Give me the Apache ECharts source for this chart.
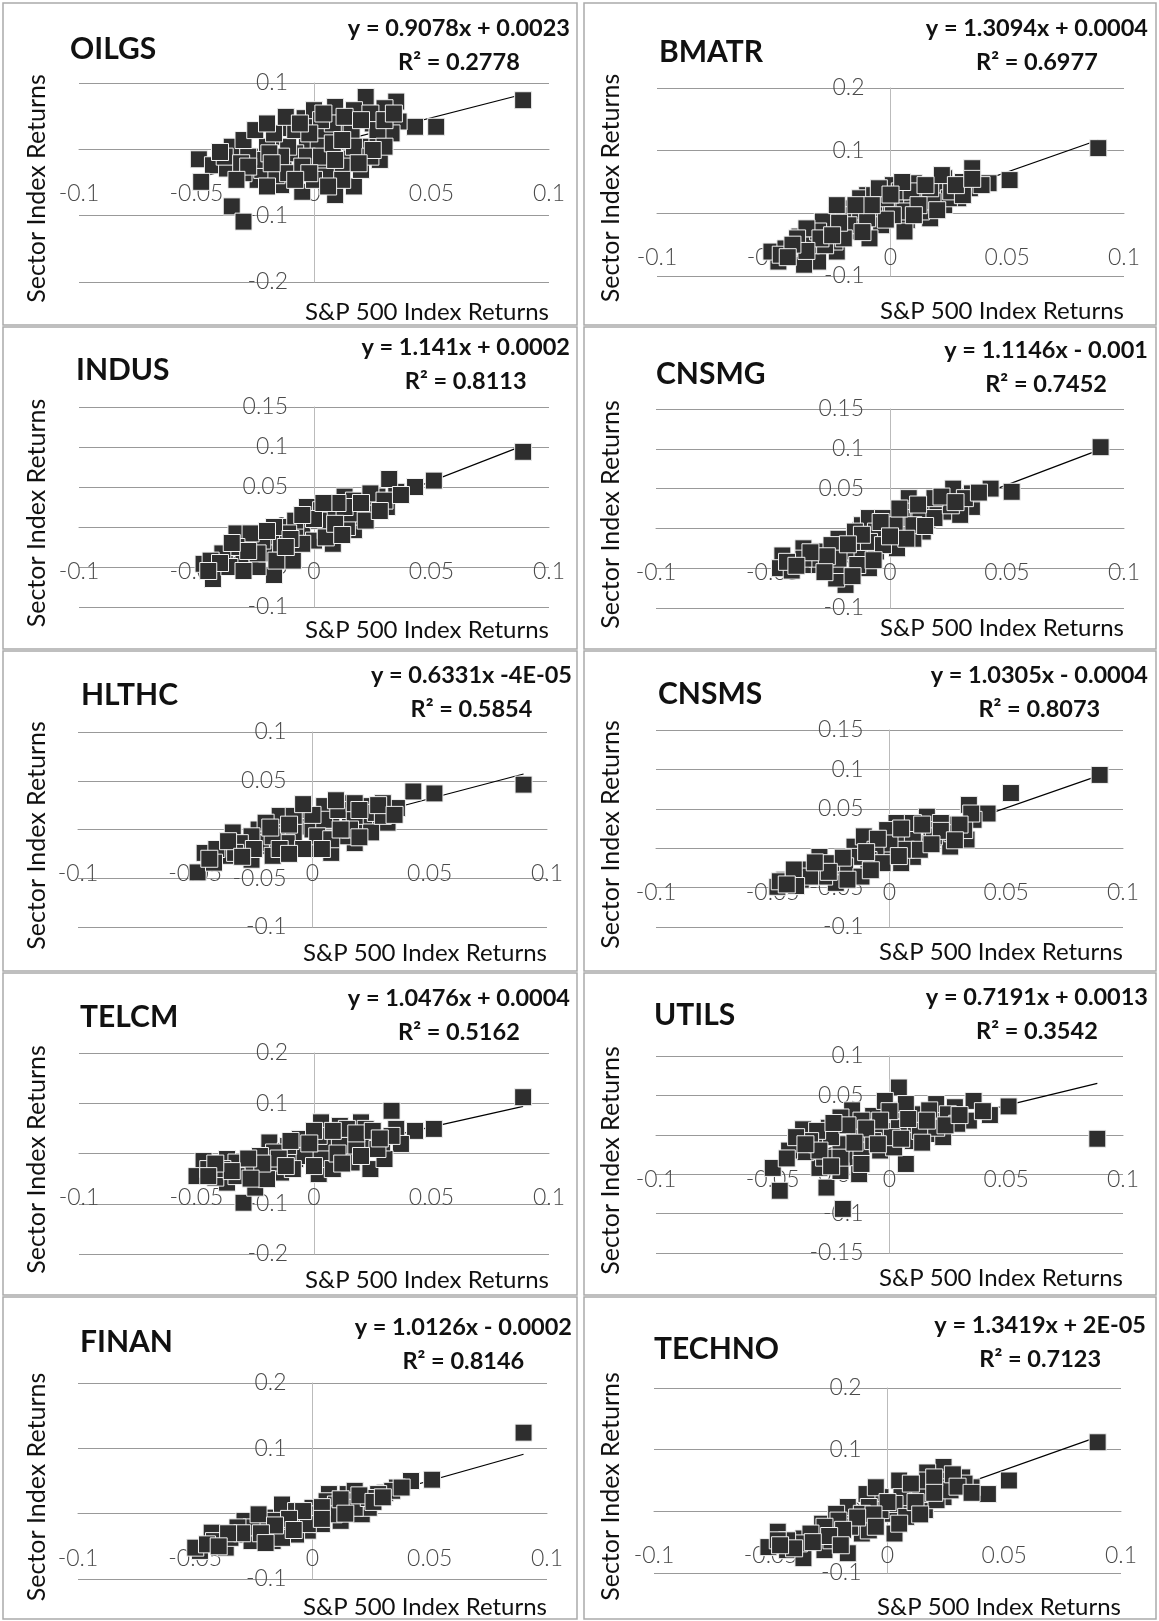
<!DOCTYPE html>
<html>
<head>
<meta charset="utf-8">
<script src="https://cdn.jsdelivr.net/npm/echarts@6/dist/echarts.min.js"></script>
<style>
html, body { margin: 0; padding: 0; background: #fff; }
#main { width: 1159px; height: 1621px; }
</style>
</head>
<body>
<div id="main"></div>
<script>
// ---- data ----
var sectors = ['OILGS', 'BMATR', 'INDUS', 'CNSMG', 'HLTHC', 'CNSMS', 'TELCM', 'UTILS', 'FINAN', 'TECHNO'];
var equations = ['y = 0.9078x + 0.0023', 'y = 1.3094x + 0.0004', 'y = 1.141x + 0.0002', 'y = 1.1146x - 0.001',
	'y = 0.6331x -4E-05', 'y = 1.0305x - 0.0004', 'y = 1.0476x + 0.0004', 'y = 0.7191x + 0.0013',
	'y = 1.0126x - 0.0002', 'y = 1.3419x + 2E-05'];
var rSquared = ['0.2778', '0.6977', '0.8113', '0.7452', '0.5854', '0.8073', '0.5162', '0.3542', '0.8146', '0.7123'];
var slopes = [0.9078, 1.3094, 1.141, 1.1146, 0.6331, 1.0305, 1.0476, 0.7191, 1.0126, 1.3419];
var intercepts = [0.0023, 0.0004, 0.0002, -0.001, -0.00004, -0.0004, 0.0004, 0.0013, -0.0002, 0.00002];

var xMin = -0.1, xMax = 0.1, xStep = 0.05;
var yMin = [-0.2, -0.1, -0.1, -0.1, -0.1, -0.1, -0.2, -0.15, -0.1, -0.1];
var yMax = [0.1, 0.2, 0.15, 0.15, 0.1, 0.15, 0.2, 0.1, 0.2, 0.2];
var yStep = [0.1, 0.1, 0.05, 0.05, 0.05, 0.05, 0.1, 0.05, 0.1, 0.1];

var xAxisName = 'S&P 500 Index Returns';
var yAxisName = 'Sector Index Returns';

// [S&P 500 return, sector return]
var oilgs = [[0.089,0.074],[0.052,0.034],[0.043,0.034],[0.036,0.042],[0.035,0.072],[0.022,0.079],[0.030,0.062],
	[0.025,0.039],[0.014,0.037],[0.009,0.064],[-0.004,0.047],[-0.011,0.032],[-0.003,0.014],[0.008,-0.001],
	[0.016,-0.014],[0.017,-0.056],[0.009,-0.069],[-0.005,-0.064],[-0.014,-0.054],[-0.024,-0.046],[-0.030,-0.036],
	[-0.035,0.004],[-0.049,-0.015],[-0.043,-0.024],[-0.037,-0.029],[-0.048,-0.049],[-0.035,-0.086],[-0.030,-0.109],
	[-0.026,-0.011],[-0.017,0.019],[-0.013,-0.016],[-0.008,-0.006],[0.002,-0.026],[0.005,0.024],[0.016,0.024],
	[0.023,0.004],[0.027,0.012],[0.028,-0.016],[-0.022,-0.031],[-0.016,-0.039],[0.008,0.039],[0.017,0.059],
	[0.002,0.004],[-0.003,-0.011],[-0.011,0.004],[0.012,-0.026],[0.005,-0.041],[-0.020,0.004],[0.033,0.024],
	[0.000,0.059],[0.003,-0.011],[-0.017,0.024],[-0.008,0.029],[0.003,0.044],[0.013,0.049],[0.024,0.054],
	[0.027,0.029],[0.017,0.004],[0.008,0.009],[-0.002,0.024],[-0.014,-0.011],[-0.024,-0.016],[-0.011,-0.036],
	[0.000,-0.046],[0.009,-0.016],[0.020,-0.031],[0.024,-0.011],[0.030,0.004],[-0.020,-0.056],[-0.028,-0.011],
	[-0.038,-0.011],[-0.031,-0.021],[-0.019,-0.006],[-0.005,-0.026],[-0.030,0.014],[-0.025,0.029],[-0.020,0.039],
	[-0.012,0.049],[-0.006,0.039],[0.004,0.054],[0.012,0.014],[0.020,0.044],[0.030,0.044],[0.034,0.054],
	[0.025,-0.001],[0.019,-0.021],[0.012,-0.046],[-0.002,-0.036],[-0.008,-0.046],[-0.018,-0.021],[-0.028,-0.026],
	[-0.040,-0.004],[-0.033,-0.046],[0.006,-0.056]];
var bmatr = [[0.089,0.104],[0.051,0.053],[0.042,0.048],[0.035,0.072],[0.023,0.056],[0.034,0.040],[0.029,0.024],
	[0.015,0.029],[0.007,0.024],[0.001,0.045],[0.010,0.048],[0.017,-0.008],[0.007,-0.011],[-0.004,0.011],
	[-0.010,0.029],[-0.013,-0.019],[-0.023,-0.003],[-0.026,-0.024],[-0.031,-0.077],[-0.037,-0.082],[-0.048,-0.077],
	[-0.051,-0.061],[-0.045,-0.056],[-0.039,-0.037],[-0.028,-0.029],[-0.023,-0.061],[-0.017,-0.029],[-0.007,0.003],
	[0.002,0.013],[0.023,0.013],[0.013,0.003],[-0.004,-0.019],[-0.020,0.008],[-0.029,-0.013],[-0.034,-0.051],
	[-0.013,0.024],[0.004,0.035],[0.020,0.035],[0.025,0.024],[0.018,0.019],[-0.009,-0.040],[0.006,-0.029],
	[-0.017,-0.003],[0.031,0.050],[-0.024,-0.045],[-0.007,0.029],[-0.002,0.024],[0.009,0.035],[0.017,0.040],
	[0.026,0.035],[0.022,0.061],[0.006,0.003],[0.012,0.013],[-0.023,0.013],[-0.013,0.003],[-0.018,-0.019],
	[-0.031,-0.029],[-0.036,-0.024],[-0.040,-0.040],[-0.047,-0.066],[-0.028,-0.051],[-0.020,-0.040],[-0.010,-0.008],
	[0.001,-0.003],[0.031,0.029],[0.039,0.045],[-0.005,0.040],[0.005,0.050],[0.015,0.045],[0.028,0.045],
	[0.020,0.005],[0.010,-0.003],[-0.002,-0.010],[-0.008,0.013],[-0.015,0.013],[-0.022,-0.015],[-0.030,-0.040],
	[-0.036,-0.060],[-0.042,-0.050],[-0.025,-0.035],[-0.012,-0.030],[0.000,0.030],[0.035,0.055],[-0.044,-0.070]];
var indus = [[0.089,0.094],[0.051,0.058],[0.043,0.050],[0.035,0.044],[0.032,0.060],[0.031,0.025],[0.024,0.025],
	[0.013,0.038],[0.008,0.008],[-0.005,0.000],[-0.003,0.025],[0.003,0.021],[-0.014,0.000],[-0.013,-0.033],
	[-0.017,-0.060],[-0.030,-0.017],[-0.030,-0.042],[-0.038,-0.038],[-0.047,-0.046],[-0.043,-0.065],[-0.024,-0.050],
	[-0.025,-0.025],[-0.019,-0.013],[-0.008,-0.008],[0.008,-0.021],[0.017,-0.004],[0.020,0.013],[0.014,0.000],
	[0.000,-0.017],[0.027,0.038],[-0.009,-0.042],[-0.020,-0.033],[-0.033,-0.008],[0.005,-0.004],[0.017,0.033],
	[-0.014,-0.021],[0.006,0.017],[0.016,0.017],[0.024,0.042],[0.013,0.025],[0.002,0.008],[-0.008,0.008],
	[-0.011,-0.008],[-0.017,0.000],[-0.022,-0.017],[-0.027,-0.008],[-0.033,-0.025],[-0.039,-0.033],[-0.044,-0.042],
	[-0.036,-0.050],[-0.016,-0.042],[-0.005,-0.021],[0.005,-0.013],[0.022,0.008],[0.030,0.033],[0.009,0.004],
	[-0.024,-0.033],[0.010,0.030],[0.020,0.030],[0.028,0.020],[0.000,0.010],[-0.005,0.015],[-0.010,-0.015],
	[-0.020,-0.005],[-0.028,-0.030],[-0.035,-0.020],[-0.040,-0.045],[-0.030,-0.055],[-0.012,-0.025],[0.012,-0.010],
	[0.004,0.030],[0.037,0.040],[-0.045,-0.055]];
var cnsmg = [[0.090,0.102],[0.052,0.046],[0.043,0.050],[0.035,0.027],[0.035,0.044],[0.027,0.050],[0.024,0.021],
	[0.016,0.011],[0.008,0.038],[0.007,0.004],[-0.003,-0.004],[-0.012,0.004],[-0.012,-0.034],[-0.019,-0.071],
	[-0.023,-0.063],[-0.023,-0.046],[-0.030,-0.029],[-0.037,-0.025],[-0.046,-0.034],[-0.047,-0.050],[-0.042,-0.053],
	[-0.036,-0.046],[-0.015,-0.017],[-0.006,-0.029],[0.002,-0.013],[0.007,0.021],[0.019,0.029],[0.030,0.017],
	[-0.022,-0.013],[-0.030,-0.046],[-0.009,0.013],[0.014,-0.004],[-0.003,0.013],[0.003,-0.025],[-0.009,-0.050],
	[0.010,-0.013],[0.005,0.013],[0.013,0.021],[0.019,0.013],[0.026,0.029],[0.010,0.004],[0.002,0.004],
	[-0.006,-0.004],[-0.009,-0.017],[-0.015,-0.004],[-0.019,-0.029],[-0.025,-0.021],[-0.031,-0.038],[-0.037,-0.038],
	[-0.044,-0.042],[-0.014,-0.046],[-0.003,-0.021],[0.007,-0.013],[0.032,0.038],[0.019,0.038],[-0.022,-0.038],
	[0.012,0.030],[0.022,0.040],[0.028,0.033],[0.004,0.025],[-0.004,0.008],[-0.012,-0.008],[-0.018,-0.020],
	[-0.027,-0.035],[-0.034,-0.030],[-0.040,-0.047],[-0.028,-0.055],[-0.016,-0.060],[0.000,-0.010],[0.015,0.003],
	[0.038,0.045],[-0.007,-0.040]];
var hlthc = [[0.090,0.046],[0.052,0.037],[0.043,0.039],[0.036,0.022],[0.030,0.027],[0.032,0.007],[0.024,0.014],
	[0.022,0.003],[0.014,0.027],[0.008,0.010],[0.008,-0.024],[0.003,-0.014],[-0.004,0.003],[-0.004,0.020],
	[-0.014,-0.003],[-0.019,-0.017],[-0.026,-0.031],[-0.030,-0.017],[-0.034,-0.003],[-0.037,-0.027],[-0.046,-0.024],
	[-0.049,-0.044],[-0.023,0.000],[-0.009,-0.020],[0.018,-0.014],[0.016,0.007],[0.005,0.024],[-0.014,0.014],
	[-0.022,-0.014],[-0.001,-0.020],[0.025,-0.003],[0.013,-0.007],[0.021,0.024],[-0.017,-0.027],[0.000,0.000],
	[0.005,0.010],[0.011,0.020],[0.018,0.014],[0.027,0.017],[0.002,-0.007],[-0.008,-0.003],[-0.011,-0.014],
	[-0.017,-0.007],[-0.020,0.007],[-0.026,-0.007],[-0.031,-0.014],[-0.033,-0.024],[-0.041,-0.020],[-0.042,-0.034],
	[-0.014,-0.020],[-0.004,-0.020],[0.008,-0.010],[0.016,0.000],[0.030,0.014],[-0.008,0.014],[0.018,0.027],
	[0.010,0.030],[0.020,0.020],[0.028,0.025],[0.035,0.015],[0.000,0.015],[-0.010,0.005],[-0.018,0.002],
	[-0.025,-0.020],[-0.036,-0.012],[-0.044,-0.030],[-0.030,-0.028],[-0.010,-0.025],[0.004,-0.020],[0.012,0.000],
	[0.020,-0.008],[-0.004,0.026]];
var cnsms = [[0.090,0.093],[0.052,0.070],[0.042,0.044],[0.034,0.055],[0.036,0.036],[0.033,0.011],[0.026,0.030],
	[0.023,0.013],[0.016,0.040],[0.015,0.006],[0.007,0.011],[0.003,0.032],[-0.004,0.008],[-0.012,-0.011],
	[-0.015,0.002],[-0.022,-0.023],[-0.023,-0.044],[-0.029,-0.023],[-0.030,-0.011],[-0.038,-0.040],[-0.045,-0.040],
	[-0.048,-0.049],[-0.047,-0.042],[-0.006,-0.019],[0.010,-0.011],[0.018,0.023],[0.000,-0.002],[-0.017,-0.036],
	[-0.011,0.015],[0.026,0.002],[0.005,-0.019],[-0.034,-0.027],[-0.001,0.023],[0.010,0.015],[0.019,0.015],
	[0.027,0.019],[0.007,-0.002],[0.000,0.006],[-0.006,-0.002],[-0.009,-0.015],[-0.015,-0.011],[-0.019,-0.023],
	[-0.025,-0.019],[-0.028,-0.036],[-0.034,-0.036],[-0.041,-0.040],[-0.041,-0.027],[-0.012,-0.036],[-0.003,-0.019],
	[0.013,-0.002],[0.032,0.023],[0.022,0.032],[0.010,0.032],[0.035,0.044],[0.005,0.025],[0.014,0.030],
	[0.022,0.022],[0.030,0.030],[0.028,0.010],[-0.005,0.012],[-0.010,-0.005],[-0.020,-0.012],[-0.026,-0.030],
	[-0.032,-0.018],[-0.040,-0.048],[-0.018,-0.040],[-0.008,-0.028],[0.004,-0.010],[0.018,0.005],[-0.044,-0.046]];
var telcm = [[0.089,0.112],[0.051,0.049],[0.043,0.045],[0.035,0.049],[0.033,0.085],[0.037,0.019],[0.024,0.029],
	[0.020,0.062],[0.011,0.055],[0.003,0.062],[-0.003,0.009],[0.007,-0.018],[0.002,-0.041],[0.014,0.002],
	[0.024,-0.031],[0.030,-0.011],[-0.014,-0.038],[-0.019,0.022],[-0.025,-0.018],[-0.030,-0.038],[-0.030,-0.098],
	[-0.025,-0.068],[-0.037,-0.011],[-0.037,-0.058],[-0.047,-0.015],[-0.050,-0.045],[-0.042,-0.048],[-0.012,0.005],
	[-0.008,-0.011],[-0.006,0.029],[0.016,0.029],[-0.020,-0.031],[0.008,0.029],[0.029,0.022],[0.003,-0.011],
	[-0.015,-0.018],[0.005,0.022],[0.011,0.015],[0.018,0.009],[0.027,0.009],[0.022,0.049],[0.014,0.049],
	[0.002,0.035],[-0.004,-0.005],[-0.011,0.015],[-0.017,0.002],[-0.023,-0.005],[-0.026,-0.031],[-0.033,-0.018],
	[-0.039,-0.031],[-0.045,-0.031],[-0.033,-0.045],[-0.020,-0.051],[-0.009,-0.031],[0.008,-0.031],[0.016,-0.018],
	[0.033,0.035],[0.000,0.045],[0.008,0.045],[0.018,0.040],[0.025,0.045],[0.028,0.030],[0.020,-0.005],
	[0.010,0.000],[-0.002,0.020],[-0.010,0.025],[-0.015,-0.010],[-0.022,-0.020],[-0.028,-0.010],[-0.035,-0.035],
	[-0.042,-0.020],[-0.045,-0.045],[-0.027,-0.050],[-0.012,-0.025],[0.000,-0.025],[0.012,-0.020]];
var utils = [[0.089,-0.005],[0.051,0.036],[0.043,0.025],[0.036,0.043],[0.034,0.018],[0.028,0.035],[0.023,0.022],
	[0.017,0.001],[0.014,0.026],[0.007,0.009],[0.007,-0.037],[0.004,0.060],[0.004,0.031],[-0.007,0.024],
	[-0.004,-0.020],[-0.012,0.001],[-0.016,0.031],[-0.017,-0.029],[-0.013,-0.050],[-0.020,-0.094],[-0.026,0.009],
	[-0.027,-0.067],[-0.030,-0.042],[-0.037,0.007],[-0.036,-0.022],[-0.043,-0.020],[-0.050,-0.042],[-0.047,-0.071],
	[-0.021,-0.012],[-0.001,0.005],[0.010,-0.008],[0.023,-0.003],[-0.021,-0.046],[-0.031,-0.012],[-0.002,0.043],
	[0.020,0.039],[0.002,-0.016],[-0.012,-0.020],[0.010,0.026],[0.017,0.031],[0.025,0.026],[0.029,0.014],
	[0.004,0.009],[-0.006,0.009],[-0.012,0.018],[-0.021,0.022],[-0.025,-0.003],[-0.031,0.005],[-0.034,-0.008],
	[-0.040,-0.003],[-0.028,-0.029],[-0.021,-0.029],[-0.007,-0.008],[0.001,-0.003],[0.013,0.005],[0.020,0.009],
	[0.007,0.039],[-0.012,-0.037],[0.000,0.030],[0.008,0.020],[0.016,0.018],[0.024,0.012],[0.030,0.025],
	[-0.004,0.018],[-0.010,0.008],[-0.018,0.012],[-0.024,0.015],[-0.030,-0.020],[-0.036,-0.012],[-0.015,-0.010],
	[-0.005,-0.012],[0.005,-0.005],[0.014,-0.010],[-0.025,-0.040],[-0.044,-0.030],[0.040,0.030]];
var finan = [[0.090,0.124],[0.051,0.052],[0.042,0.050],[0.036,0.040],[0.031,0.032],[0.023,0.024],[0.015,0.007],
	[0.015,0.030],[0.007,0.030],[0.007,-0.001],[-0.002,-0.026],[-0.012,-0.001],[-0.013,-0.021],[-0.017,-0.042],
	[-0.023,-0.021],[-0.029,-0.011],[-0.031,-0.032],[-0.038,-0.044],[-0.043,-0.029],[-0.048,-0.057],[-0.050,-0.052],
	[-0.037,-0.052],[-0.007,-0.032],[0.004,-0.016],[0.021,-0.001],[0.024,0.009],[0.000,0.009],[-0.020,-0.006],
	[-0.013,0.014],[-0.007,0.004],[0.012,-0.011],[0.034,0.035],[-0.026,-0.042],[0.018,0.035],[0.006,0.019],
	[0.010,0.014],[0.018,0.019],[0.028,0.030],[0.002,-0.001],[-0.004,-0.006],[-0.009,-0.016],[-0.017,-0.011],
	[-0.020,-0.026],[-0.026,-0.021],[-0.032,-0.021],[-0.035,-0.037],[-0.042,-0.042],[-0.045,-0.047],[-0.013,-0.037],
	[-0.002,-0.016],[0.009,-0.001],[0.018,0.009],[0.024,0.024],[-0.023,-0.001],[0.004,0.010],[0.012,0.022],
	[0.020,0.028],[0.026,0.018],[0.030,0.025],[-0.004,0.004],[-0.010,-0.008],[-0.016,-0.018],[-0.022,-0.030],
	[-0.030,-0.030],[-0.036,-0.030],[-0.040,-0.050],[-0.020,-0.045],[-0.008,-0.025],[0.004,-0.008],[0.014,0.000],
	[0.038,0.040]];
var techno = [[0.090,0.112],[0.052,0.050],[0.043,0.028],[0.036,0.039],[0.032,0.055],[0.024,0.072],[0.017,0.063],
	[0.024,0.023],[0.016,0.020],[0.008,0.007],[0.008,0.028],[0.005,0.050],[-0.003,0.023],[-0.005,-0.015],
	[-0.014,-0.015],[-0.017,0.007],[-0.017,-0.068],[-0.021,-0.036],[-0.028,-0.020],[-0.030,-0.047],[-0.036,-0.044],
	[-0.047,-0.033],[-0.051,-0.058],[-0.043,-0.063],[-0.036,-0.076],[-0.022,-0.004],[-0.009,0.028],[0.002,-0.004],
	[0.003,-0.036],[0.016,0.002],[0.027,0.050],[-0.027,-0.063],[-0.011,-0.036],[0.011,0.039],[0.021,0.039],
	[-0.005,0.039],[0.006,0.023],[0.014,0.028],[0.021,0.018],[0.027,0.034],[0.017,0.050],[0.003,0.012],
	[-0.003,0.002],[-0.008,0.007],[-0.011,-0.004],[-0.016,-0.025],[-0.021,-0.015],[-0.027,-0.025],[-0.033,-0.036],
	[-0.038,-0.052],[-0.043,-0.047],[-0.047,-0.047],[-0.024,-0.047],[-0.008,-0.031],[0.008,-0.009],[0.033,0.045],
	[0.010,0.045],[0.020,0.055],[0.028,0.060],[0.030,0.040],[0.020,0.030],[0.012,0.015],[0.000,0.015],
	[-0.006,-0.005],[-0.013,-0.010],[-0.019,-0.030],[-0.025,-0.040],[-0.032,-0.050],[-0.040,-0.060],[-0.046,-0.055],
	[-0.020,-0.055],[-0.005,-0.025],[0.005,-0.020],[0.014,-0.005],[0.036,0.030]];
var points = [oilgs, bmatr, indus, cnsmg, hlthc, cnsms, telcm, utils, finan, techno];

// ---- layout (page pixels) ----
// plot box: left, top, right, bottom
var plots = [[79, 83, 549, 282], [657, 88, 1124, 276],
	[79, 407, 549, 607], [656, 409, 1124, 608],
	[78, 732, 547, 927], [656, 730, 1123, 927],
	[79, 1053, 549, 1254], [656, 1056, 1123, 1253],
	[78, 1383, 547, 1579], [654, 1388, 1121, 1573]];
var namePos = [[70, 49], [659, 52], [76, 370], [656, 374], [81, 695], [658, 694], [80, 1017], [654, 1015], [80, 1342], [654, 1349]];
var eqPos = [[570, 28], [1148, 28], [570, 347], [1148, 350], [572, 675], [1148, 675], [570, 998], [1148, 997], [572, 1327], [1146, 1325]];
var xNameY = [312, 311, 630, 628, 953, 952, 1280, 1278, 1607, 1607];
var rowTop = [3, 327, 651, 973, 1297];
var rowBottom = [325, 649, 971, 1295, 1619];

var font = 'Lato, "Open Sans", sans-serif';
var myChart = echarts.init(document.getElementById('main'));
var option = {
	backgroundColor: '#fff',
	animation: false,
	grid: [], xAxis: [], yAxis: [], series: [], graphic: []
};

sectors.forEach(function (name, i) {
	var p = plots[i];
	var col = i % 2, row = Math.floor(i / 2);
	var w = p[2] - p[0], h = p[3] - p[1];
	// shift the axes so that they cross at (0, 0) like the Excel charts
	var zeroY = p[1] + yMax[i] / (yMax[i] - yMin[i]) * h;
	var zeroX = p[0] + (0 - xMin) / (xMax - xMin) * w;
	option.grid.push({ left: p[0], top: p[1], width: w, height: h });
	option.xAxis.push({
		type: 'value', gridIndex: i, min: xMin, max: xMax, interval: xStep,
		position: 'bottom', offset: -(p[3] - zeroY),
		axisLine: { onZero: false, lineStyle: { color: '#999', width: 1 } },
		axisTick: { show: false },
		axisLabel: { margin: 33, fontSize: 23, color: '#4a4a4a', fontFamily: font, fontWeight: 300 },
		splitLine: { show: false }
	});
	option.yAxis.push({
		type: 'value', gridIndex: i, min: yMin[i], max: yMax[i], interval: yStep[i],
		position: 'left', offset: -(zeroX - p[0]),
		axisLine: { show: true, onZero: false, lineStyle: { color: '#bbb', width: 1 } },
		axisTick: { show: false },
		axisLabel: { margin: 26, fontSize: 23, color: '#4a4a4a', fontFamily: font, fontWeight: 300 },
		splitLine: { show: true, lineStyle: { color: '#999', width: 1 } }
	});
	// linear trendline over the data's x range (under the markers)
	var xs = points[i].map(function (d) { return d[0]; });
	var x0 = Math.min.apply(null, xs), x1 = Math.max.apply(null, xs);
	option.series.push({
		type: 'line', xAxisIndex: i, yAxisIndex: i, symbol: 'none', z: 1,
		lineStyle: { color: '#000', width: 1.2 },
		data: [[x0, slopes[i] * x0 + intercepts[i]], [x1, slopes[i] * x1 + intercepts[i]]]
	});
	option.series.push({
		type: 'scatter', xAxisIndex: i, yAxisIndex: i, z: 2,
		symbol: 'rect', symbolSize: 17,
		itemStyle: { color: '#2e2e2e', borderColor: '#f2f2f2', borderWidth: 1, opacity: 1 },
		data: points[i]
	});

	// panel frame
	var fx = col === 0 ? 3 : 584, fw = col === 0 ? 574 : 572;
	option.graphic.push({
		type: 'rect', shape: { x: fx, y: rowTop[row], width: fw, height: rowBottom[row] - rowTop[row] },
		style: { fill: 'none', stroke: '#aaa', lineWidth: 1.5 }, silent: true
	});
	// sector name
	option.graphic.push({
		type: 'text', x: namePos[i][0], y: namePos[i][1],
		style: { text: name, fontFamily: font, fontWeight: 'bold', fontSize: 30, fill: '#111', align: 'left', verticalAlign: 'middle' }
	});
	// trendline equation + R2, lines centred on each other, block right aligned
	option.graphic.push({
		type: 'text', x: eqPos[i][0], y: eqPos[i][1] - 17,
		style: {
			text: '{e|' + equations[i] + '}\n{e|R\u00b2 = ' + rSquared[i] + '}',
			align: 'right', verticalAlign: 'top',
			rich: { e: { fontFamily: font, fontWeight: 'bold', fontSize: 23.5, fill: '#111', color: '#111', lineHeight: 34, align: 'center' } }
		}
	});
	// axis titles
	option.graphic.push({
		type: 'text', x: col === 0 ? 37 : 611, y: (p[1] + p[3]) / 2 + 6, rotation: Math.PI / 2,
		style: { text: yAxisName, fontFamily: font, fontSize: 25, fill: '#111', align: 'center', verticalAlign: 'middle' }
	});
	option.graphic.push({
		type: 'text', x: p[2], y: xNameY[i],
		style: { text: xAxisName, fontFamily: font, fontSize: 24, fill: '#111', align: 'right', verticalAlign: 'middle' }
	});
});

myChart.setOption(option);
</script>
</body>
</html>
